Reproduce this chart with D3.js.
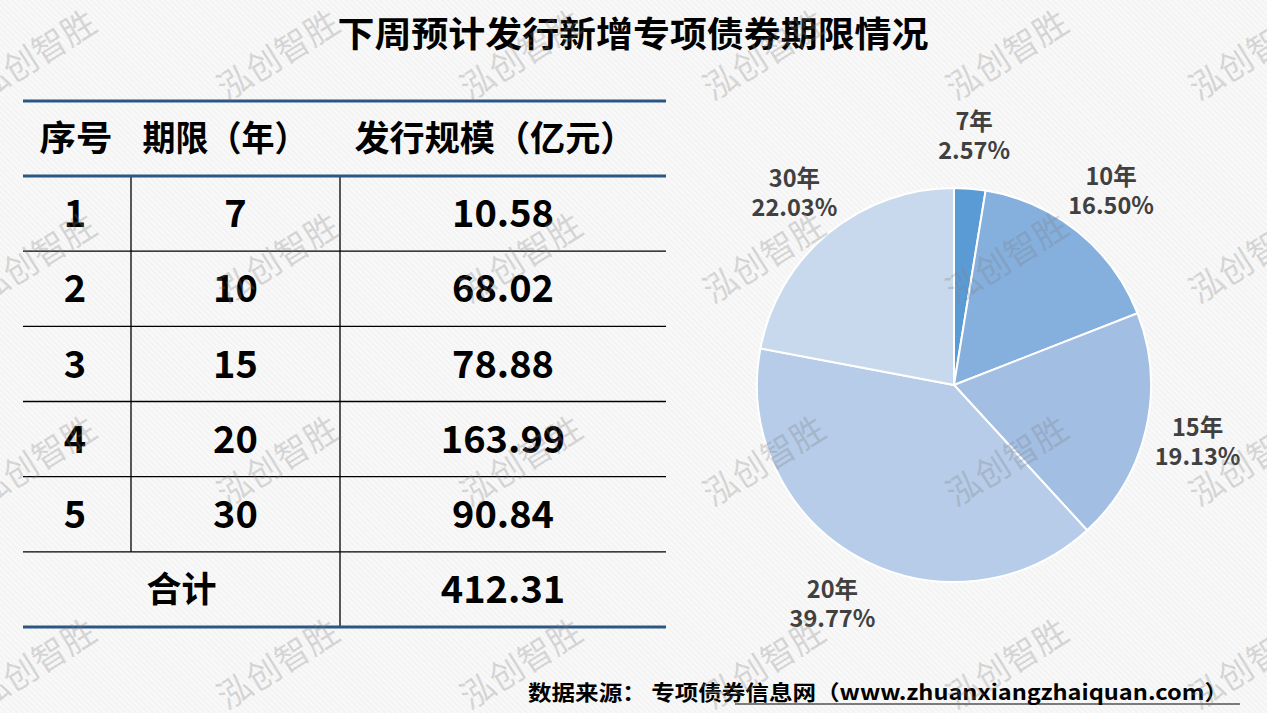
<!DOCTYPE html>
<html>
<head>
<meta charset="utf-8">
<script src="https://cdn.jsdelivr.net/npm/d3@7/dist/d3.min.js"></script>
<style>
  html, body { margin: 0; padding: 0; background: #f7f7f7; }
  svg { display: block; }
  text { font-family: "Noto Sans CJK SC", "Noto Sans", sans-serif; }
</style>
</head>
<body>
<svg id="chart" width="1267" height="713"></svg>
<script>
// ---- data ----
const titleText = "下周预计发行新增专项债券期限情况";
const headers = ["序号", "期限（年）", "发行规模（亿元）"];
const seqNos = ["1", "2", "3", "4", "5"];
const periods = ["7", "10", "15", "20", "30"];
const amounts = [10.58, 68.02, 78.88, 163.99, 90.84];
const totalLabel = "合计";
const totalAmount = 412.31;
const pieLabels = ["7年", "10年", "15年", "20年", "30年"];
const pieShares = [2.57, 16.50, 19.13, 39.77, 22.03];
const pieColors = ["#5b9bd5", "#85afdd", "#a2bee3", "#b6cce8", "#c9d9ed"];
const sourcePrefix = "数据来源： 专项债券信息网（";
const sourceUrl = "www.zhuanxiangzhaiquan.com";
const sourceSuffix = "）";
const watermark = "泓创智胜";

const W = 1267, H = 713;
const svg = d3.select("#chart");

// background with faint diagonal hatching
const defs = svg.append("defs");
const pat = defs.append("pattern").attr("id", "hatch").attr("patternUnits", "userSpaceOnUse")
  .attr("width", 4).attr("height", 4).attr("patternTransform", "rotate(-45)");
pat.append("rect").attr("width", 4).attr("height", 4).attr("fill", "#f8f8f8");
pat.append("rect").attr("width", 1).attr("height", 4).attr("fill", "#f0f0f0");
svg.append("rect").attr("width", W).attr("height", H).attr("fill", "url(#hatch)");

// ---- watermark (behind content) ----
const wmX = d3.range(6).map(k => 35 + 243 * k);
const wmY = d3.range(4).map(j => 55 + 203 * j);
const wm = svg.append("g").attr("pointer-events", "none");

// title
svg.append("text").attr("x", 633).attr("y", 47).attr("text-anchor", "middle")
  .attr("font-size", 35).attr("font-weight", 700).attr("fill", "#000")
  .attr("textLength", 591).attr("lengthAdjust", "spacingAndGlyphs")
  .text(titleText);

// ---- table ----
const tblX0 = 23, tblX1 = 666;
const colEdges = [23, 131, 340, 666];
const rowIdx = d3.range(seqNos.length + 1); // data rows + total row
const yRow = d3.scaleBand().domain(rowIdx).range([176, 627]);
const headerTop = 101, headerBot = 176;
const tbl = svg.append("g");

const colCenter = i => (colEdges[i] + colEdges[i + 1]) / 2;

// header text
const headerX = [76, 225, 495];
const headerW = [73, 165, 281];
tbl.selectAll("text.hdr").data(headers).join("text").attr("class", "hdr")
  .attr("x", (d, i) => headerX[i]).attr("y", (headerTop + headerBot) / 2)
  .attr("dy", "0.36em").attr("text-anchor", "middle")
  .attr("font-size", 35).attr("font-weight", 700).attr("fill", "#000")
  .attr("textLength", (d, i) => headerW[i]).attr("lengthAdjust", "spacingAndGlyphs")
  .text(d => d);

// row lines (thin)
tbl.selectAll("line.row").data(rowIdx.slice(1)).join("line").attr("class", "row")
  .attr("x1", tblX0).attr("x2", tblX1)
  .attr("y1", d => yRow(d)).attr("y2", d => yRow(d))
  .attr("stroke", "#000").attr("stroke-width", 1.3);

// vertical lines
tbl.append("line").attr("x1", colEdges[1]).attr("x2", colEdges[1])
  .attr("y1", headerBot).attr("y2", yRow(seqNos.length)).attr("stroke", "#000").attr("stroke-width", 1.3);
tbl.append("line").attr("x1", colEdges[2]).attr("x2", colEdges[2])
  .attr("y1", headerBot).attr("y2", yRow(seqNos.length) + yRow.bandwidth()).attr("stroke", "#000").attr("stroke-width", 1.3);

// thick blue lines
[headerTop, headerBot, yRow(seqNos.length) + yRow.bandwidth()].forEach(y => {
  tbl.append("line").attr("x1", tblX0).attr("x2", tblX1).attr("y1", y).attr("y2", y)
    .attr("stroke", "#2a5783").attr("stroke-width", 3);
});

// body cells
const rows = seqNos.map((s, i) => ({ s, p: periods[i], a: amounts[i], i }));
const cellFont = 38;
rows.forEach(r => {
  const cy = yRow(r.i) + yRow.bandwidth() / 2;
  [[r.s, colCenter(0) - 2], [r.p, colCenter(1)], [r.a.toFixed(2), colCenter(2)]].forEach(([t, x]) => {
    tbl.append("text").attr("x", x).attr("y", cy).attr("dy", "0.36em").attr("text-anchor", "middle")
      .attr("font-size", cellFont).attr("font-weight", 700).attr("fill", "#000").text(t);
  });
});
{
  const cy = yRow(seqNos.length) + yRow.bandwidth() / 2;
  tbl.append("text").attr("x", (colEdges[0] + colEdges[2]) / 2).attr("y", cy).attr("dy", "0.36em")
    .attr("text-anchor", "middle").attr("font-size", 35).attr("font-weight", 700).attr("fill", "#000").text(totalLabel);
  tbl.append("text").attr("x", colCenter(2)).attr("y", cy).attr("dy", "0.36em")
    .attr("text-anchor", "middle").attr("font-size", cellFont).attr("font-weight", 700).attr("fill", "#000")
    .text(totalAmount.toFixed(2));
}

// ---- pie ----
const cx = 954, cy = 385, R = 197, labelR = 250;
const pie = d3.pie().sort(null).value(d => d.v);
const pieData = pie(pieLabels.map((l, i) => ({ l, v: amounts[i], s: pieShares[i], c: pieColors[i] })));
const arc = d3.arc().innerRadius(0).outerRadius(R);
const labelArc = d3.arc().innerRadius(labelR).outerRadius(labelR);
const pg = svg.append("g").attr("transform", `translate(${cx},${cy})`);
pg.selectAll("path").data(pieData).join("path")
  .attr("d", arc).attr("fill", d => d.data.c).attr("stroke", "#fff").attr("stroke-width", 2);
const lab = pg.selectAll("g.lab").data(pieData).join("g").attr("class", "lab")
  .attr("transform", d => { const [x, y] = labelArc.centroid(d); return `translate(${x},${y})`; });
lab.append("text").attr("y", -14).attr("dy", "0.36em").attr("text-anchor", "middle")
  .attr("font-size", 23.5).attr("font-weight", 700).attr("fill", "#404040").text(d => d.data.l);
lab.append("text").attr("y", 15).attr("dy", "0.36em").attr("text-anchor", "middle")
  .attr("font-size", 23.5).attr("font-weight", 700).attr("fill", "#404040").text(d => d.data.s.toFixed(2) + "%");

// ---- source ----
const src = svg.append("text").attr("x", 528).attr("y", 700).attr("font-size", 21).attr("font-weight", 700).attr("fill", "#000");
src.append("tspan").text(sourcePrefix);
src.append("tspan").text(sourceUrl);
src.append("tspan").text(sourceSuffix);
src.attr("textLength", 700).attr("lengthAdjust", "spacingAndGlyphs");
svg.append("line").attr("x1", 735).attr("x2", 1240).attr("y1", 704).attr("y2", 704).attr("stroke", "#000").attr("stroke-width", 1.2);

// watermark texts drawn on top with transparency
wmY.forEach(y => wmX.forEach(x => {
  wm.raise();
  wm.append("text").attr("transform", `translate(${x},${y}) rotate(-32)`)
    .attr("text-anchor", "middle").attr("dy", "0.36em")
    .attr("font-size", 34).attr("fill", "#808080").attr("fill-opacity", 0.28).text(watermark);
}));
</script>
</body>
</html>
